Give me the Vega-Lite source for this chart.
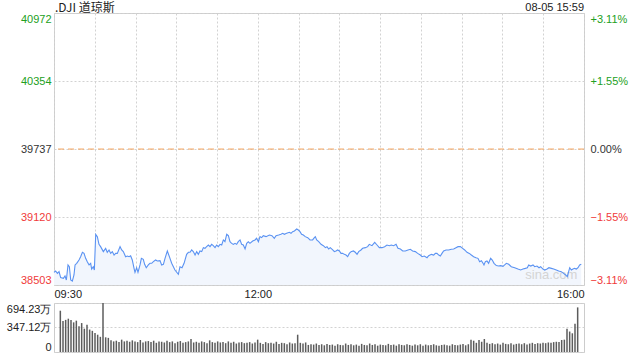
{
"$schema":"https://vega.github.io/schema/vega-lite/v6.json",
"padding":{"left":5,"top":1,"right":5,"bottom":4},
"spacing":2,
"config":{"view":{"stroke":"#cccccc"},"font":"Liberation Sans","axis":{"labelFont":"Liberation Sans","labelFontSize":11,"labelColor":"#333333","domain":false,"ticks":false,"gridColor":"#d2d2d2","gridDash":[2,2],"title":null}},
"datasets":{
"price":[{"t":0,"p":38618},{"t":1.2,"p":38630},{"t":2.5,"p":38609},{"t":3.7,"p":38624},{"t":4.9,"p":38570},{"t":6.9,"p":38563},{"t":8.1,"p":38585},{"t":9.1,"p":38548},{"t":10.3,"p":38685},{"t":11.3,"p":38669},{"t":12.3,"p":38548},{"t":13.5,"p":38539},{"t":14.7,"p":38594},{"t":15.5,"p":38685},{"t":16.7,"p":38700},{"t":18.4,"p":38730},{"t":19.6,"p":38760},{"t":20.9,"p":38800},{"t":22.1,"p":38790},{"t":23.3,"p":38745},{"t":24.5,"p":38715},{"t":25.8,"p":38685},{"t":27,"p":38700},{"t":27.7,"p":38648},{"t":28.9,"p":38669},{"t":29.7,"p":38639},{"t":30.7,"p":38963},{"t":31.9,"p":38942},{"t":33.1,"p":38872},{"t":34.3,"p":38851},{"t":36.3,"p":38806},{"t":38,"p":38836},{"t":39.2,"p":38800},{"t":40.5,"p":38821},{"t":41.7,"p":38790},{"t":42.9,"p":38806},{"t":44.2,"p":38775},{"t":45.4,"p":38790},{"t":46.6,"p":38790},{"t":48.6,"p":38851},{"t":49.8,"p":38821},{"t":51,"p":38806},{"t":52.7,"p":38760},{"t":54,"p":38766},{"t":55.2,"p":38760},{"t":56.4,"p":38769},{"t":57.6,"p":38730},{"t":58.9,"p":38654},{"t":59.6,"p":38618},{"t":60.8,"p":38660},{"t":61.8,"p":38618},{"t":63.3,"p":38685},{"t":64.3,"p":38745},{"t":65.7,"p":38736},{"t":66.7,"p":38691},{"t":67.9,"p":38660},{"t":69.4,"p":38685},{"t":70.6,"p":38700},{"t":71.9,"p":38700},{"t":73.1,"p":38715},{"t":74.8,"p":38730},{"t":76,"p":38721},{"t":78,"p":38724},
{"t":79.2,"p":38685},{"t":80.5,"p":38691},{"t":81.7,"p":38745},{"t":83.4,"p":38812},{"t":84.9,"p":38760},{"t":86.6,"p":38700},{"t":89,"p":38639},{"t":91.5,"p":38600},{"t":92.7,"p":38669},{"t":94.2,"p":38660},{"t":95.7,"p":38700},{"t":97.6,"p":38781},{"t":98.9,"p":38800},{"t":100.1,"p":38800},{"t":101.3,"p":38821},{"t":102.5,"p":38806},{"t":103.8,"p":38775},{"t":105,"p":38806},{"t":106.2,"p":38781},{"t":107.4,"p":38812},{"t":108.7,"p":38806},{"t":109.9,"p":38842},{"t":111.1,"p":38836},{"t":112.3,"p":38851},{"t":113.6,"p":38866},{"t":114.8,"p":38851},{"t":116,"p":38872},{"t":117.2,"p":38860},{"t":118.5,"p":38842},{"t":119.7,"p":38866},{"t":120.9,"p":38851},{"t":122.2,"p":38872},{"t":123.4,"p":38866},{"t":124.6,"p":38912},{"t":125.8,"p":38896},{"t":127.1,"p":38963},{"t":128.3,"p":38951},{"t":129.5,"p":38896},{"t":130.7,"p":38881},{"t":132,"p":38872},{"t":133.2,"p":38881},{"t":134.4,"p":38872},{"t":135.6,"p":38896},{"t":136.9,"p":38912},{"t":138.1,"p":38872},{"t":139.3,"p":38866},{"t":140.6,"p":38830},{"t":141.8,"p":38881},{"t":143,"p":38896},{"t":144.2,"p":38881},{"t":146.2,"p":38902},{"t":147.9,"p":38912},{"t":149.1,"p":38927},{"t":150.4,"p":38896},{"t":151.6,"p":38942},{"t":152.8,"p":38933},{"t":154,"p":38951},{"t":156,"p":38942},
{"t":158.5,"p":38957},{"t":160.4,"p":38951},{"t":162.1,"p":38927},{"t":163.4,"p":38951},{"t":165.3,"p":38957},{"t":167,"p":38963},{"t":168.3,"p":38972},{"t":169.5,"p":38963},{"t":171.2,"p":38972},{"t":173.2,"p":38981},{"t":174.4,"p":38972},{"t":175.6,"p":38987},{"t":176.9,"p":38993},{"t":178.6,"p":39011},{"t":179.8,"p":39002},{"t":181,"p":38987},{"t":182.2,"p":38963},{"t":183.5,"p":38957},{"t":184.9,"p":38942},{"t":186.7,"p":38933},{"t":188.4,"p":38912},{"t":190.3,"p":38912},{"t":191.6,"p":38933},{"t":192.3,"p":38942},{"t":193.3,"p":38912},{"t":194.8,"p":38896},{"t":196.5,"p":38872},{"t":198.2,"p":38860},{"t":199.7,"p":38842},{"t":200.9,"p":38851},{"t":202.1,"p":38830},{"t":203.3,"p":38842},{"t":205.1,"p":38821},{"t":206.3,"p":38806},{"t":207.5,"p":38812},{"t":208.7,"p":38821},{"t":210,"p":38812},{"t":211.2,"p":38790},{"t":212.4,"p":38790},{"t":213.6,"p":38781},{"t":214.9,"p":38775},{"t":216.1,"p":38760},{"t":217.3,"p":38790},{"t":218.6,"p":38806},{"t":220.3,"p":38812},{"t":221.7,"p":38800},{"t":223,"p":38781},{"t":224.2,"p":38806},{"t":225.9,"p":38821},{"t":227.1,"p":38836},{"t":229.1,"p":38842},{"t":230.8,"p":38851},{"t":232,"p":38872},{"t":234,"p":38860},
{"t":236,"p":38890},{"t":237.7,"p":38866},{"t":239.4,"p":38842},{"t":241.4,"p":38842},{"t":243.3,"p":38851},{"t":245,"p":38866},{"t":246.8,"p":38860},{"t":248.2,"p":38866},{"t":249.9,"p":38860},{"t":251.7,"p":38872},{"t":253.1,"p":38836},{"t":254.9,"p":38830},{"t":256.6,"p":38812},{"t":258.5,"p":38812},{"t":260.5,"p":38821},{"t":262.2,"p":38827},{"t":263.9,"p":38812},{"t":265.9,"p":38806},{"t":267.6,"p":38790},{"t":269.6,"p":38775},{"t":270.8,"p":38760},{"t":272.5,"p":38766},{"t":274.5,"p":38751},{"t":275.7,"p":38769},{"t":277.7,"p":38781},{"t":279.4,"p":38775},{"t":280.6,"p":38790},{"t":281.8,"p":38790},{"t":283.1,"p":38775},{"t":284.3,"p":38766},{"t":285.5,"p":38790},{"t":286.7,"p":38812},{"t":288.5,"p":38821},{"t":290.4,"p":38821},{"t":292.4,"p":38827},{"t":294.1,"p":38830},{"t":295.8,"p":38842},{"t":297.3,"p":38851},{"t":299,"p":38851},{"t":300.7,"p":38836},{"t":302.2,"p":38821},{"t":303.9,"p":38800},{"t":305.6,"p":38790},{"t":307.1,"p":38775},{"t":308.8,"p":38760},{"t":310.5,"p":38751},{"t":312,"p":38745},
{"t":313.2,"p":38715},{"t":314.5,"p":38724},{"t":315.7,"p":38700},{"t":316.4,"p":38685},{"t":317.4,"p":38715},{"t":318.6,"p":38721},{"t":319.8,"p":38700},{"t":321.3,"p":38745},{"t":322.5,"p":38730},{"t":323.8,"p":38700},{"t":325.5,"p":38679},{"t":327.2,"p":38675},{"t":328.7,"p":38679},{"t":330.4,"p":38672},{"t":331.6,"p":38685},{"t":332.9,"p":38700},{"t":334.6,"p":38691},{"t":336.5,"p":38669},{"t":339,"p":38660},{"t":341.4,"p":38648},{"t":343.4,"p":38639},{"t":345.1,"p":38648},{"t":346.8,"p":38654},{"t":348.3,"p":38660},{"t":349.3,"p":38685},{"t":350.8,"p":38675},{"t":352.5,"p":38685},{"t":353.7,"p":38669},{"t":355.4,"p":38675},{"t":356.9,"p":38660},{"t":358.1,"p":38669},{"t":359.8,"p":38648},{"t":361.1,"p":38639},{"t":362.8,"p":38648},{"t":364.2,"p":38660},{"t":366,"p":38654},{"t":367.7,"p":38648},{"t":369.6,"p":38639},{"t":371.4,"p":38630},{"t":373.3,"p":38624},{"t":375,"p":38609},{"t":376.5,"p":38594},{"t":377.7,"p":38579},{"t":378.7,"p":38624},{"t":379.5,"p":38660},{"t":380.7,"p":38639},{"t":381.9,"p":38648},{"t":383.1,"p":38654},{"t":384.4,"p":38648},{"t":385.6,"p":38660},{"t":386.8,"p":38685},{"t":388,"p":38691}],
"vol":[{"t":1,"v":585},{"t":3,"v":440},{"t":5,"v":455},{"t":7,"v":472},{"t":9,"v":455},{"t":11,"v":420},{"t":13,"v":444},{"t":15,"v":365},{"t":17,"v":410},{"t":19,"v":330},{"t":21,"v":385},{"t":23,"v":318},{"t":25,"v":300},{"t":27,"v":270},{"t":29,"v":245},{"t":31,"v":215},{"t":33,"v":694},{"t":35,"v":208},{"t":37,"v":200},{"t":39,"v":165},{"t":41,"v":150},{"t":43,"v":160},{"t":45,"v":140},{"t":47,"v":175},{"t":49,"v":150},{"t":51,"v":160},{"t":53,"v":145},{"t":55,"v":165},{"t":57,"v":150},{"t":59,"v":140},{"t":61,"v":170},{"t":63,"v":135},{"t":65,"v":150},{"t":67,"v":155},{"t":69,"v":140},{"t":71,"v":160},{"t":73,"v":130},{"t":75,"v":150},{"t":77,"v":145},{"t":79,"v":135},{"t":81,"v":160},{"t":83,"v":140},{"t":85,"v":150},{"t":87,"v":125},{"t":89,"v":145},{"t":91,"v":155},{"t":93,"v":130},{"t":95,"v":140},{"t":97,"v":150},{"t":99,"v":185},{"t":101,"v":135},{"t":103,"v":145},{"t":105,"v":130},{"t":107,"v":150},{"t":109,"v":140},{"t":111,"v":125},{"t":113,"v":165},{"t":115,"v":140},{"t":117,"v":130},{"t":119,"v":150},{"t":121,"v":135},{"t":123,"v":140},{"t":125,"v":125},{"t":127,"v":150},{"t":129,"v":130},{"t":131,"v":145},{"t":133,"v":120},{"t":135,"v":135},{"t":137,"v":140},{"t":139,"v":125},{"t":141,"v":130},{"t":143,"v":140},{"t":145,"v":120},{"t":147,"v":135},{"t":149,"v":175},{"t":151,"v":130},{"t":153,"v":115},{"t":155,"v":140},{"t":157,"v":125},{"t":159,"v":130},{"t":161,"v":120},{"t":163,"v":145},{"t":165,"v":115},{"t":167,"v":130},{"t":169,"v":125},{"t":171,"v":110},{"t":173,"v":135},{"t":175,"v":120},{"t":177,"v":125},{"t":179,"v":245},{"t":181,"v":130},{"t":183,"v":120},{"t":185,"v":135},{"t":187,"v":100},{"t":189,"v":110},{"t":191,"v":105},{"t":193,"v":120},{"t":195,"v":100},{"t":197,"v":110},{"t":199,"v":95},{"t":201,"v":115},{"t":203,"v":100},{"t":205,"v":105},{"t":207,"v":90},{"t":209,"v":110},{"t":211,"v":100},{"t":213,"v":95},{"t":215,"v":120},{"t":217,"v":100},{"t":219,"v":110},{"t":221,"v":95},{"t":223,"v":105},{"t":225,"v":90},{"t":227,"v":115},{"t":229,"v":100},{"t":231,"v":95},{"t":233,"v":120},{"t":235,"v":100},{"t":237,"v":110},{"t":239,"v":90},{"t":241,"v":105},{"t":243,"v":100},{"t":245,"v":95},{"t":247,"v":115},{"t":249,"v":100},{"t":251,"v":105},{"t":253,"v":90},{"t":255,"v":110},{"t":257,"v":100},{"t":259,"v":95},{"t":261,"v":110},{"t":263,"v":100},{"t":265,"v":90},{"t":267,"v":105},{"t":269,"v":95},{"t":271,"v":110},{"t":273,"v":90},{"t":275,"v":105},{"t":277,"v":95},{"t":279,"v":100},{"t":281,"v":110},{"t":283,"v":95},{"t":285,"v":90},{"t":287,"v":100},{"t":289,"v":105},{"t":291,"v":95},{"t":293,"v":90},{"t":295,"v":110},{"t":297,"v":100},{"t":299,"v":95},{"t":301,"v":105},{"t":303,"v":115},{"t":305,"v":95},{"t":307,"v":110},{"t":309,"v":175},{"t":311,"v":160},{"t":313,"v":130},{"t":315,"v":170},{"t":317,"v":145},{"t":319,"v":184},{"t":321,"v":130},{"t":323,"v":115},{"t":325,"v":125},{"t":327,"v":110},{"t":329,"v":120},{"t":331,"v":105},{"t":333,"v":130},{"t":335,"v":115},{"t":337,"v":110},{"t":339,"v":125},{"t":341,"v":105},{"t":343,"v":115},{"t":345,"v":120},{"t":347,"v":110},{"t":349,"v":125},{"t":351,"v":105},{"t":353,"v":120},{"t":355,"v":130},{"t":357,"v":115},{"t":359,"v":125},{"t":361,"v":120},{"t":363,"v":130},{"t":365,"v":125},{"t":367,"v":135},{"t":369,"v":130},{"t":371,"v":140},{"t":373,"v":145},{"t":375,"v":140},{"t":377,"v":170},{"t":379,"v":175},{"t":381,"v":330},{"t":383,"v":290},{"t":385,"v":265},{"t":387,"v":400},{"t":389,"v":632}]
},
"vconcat":[
{
"width":530,"height":272,
"resolve":{"scale":{"y":"independent"}},
"layer":[
{"layer":[
{"data":{"name":"price"},"mark":{"type":"area","color":"#f2f6fd"},
"encoding":{"x":{"field":"t","type":"quantitative","scale":{"domain":[0,390],"nice":false,"zero":false},"axis":{"values":[0,30,60,90,120,150,180,210,240,270,300,330,360,390],"labelExpr":"datum.value==0?'09:30':datum.value==150?'12:00':datum.value==390?'16:00':''","labelFlush":true,"labelPadding":3,"labelColor":"#222222","grid":true}},
"y":{"field":"p","type":"quantitative","scale":{"domain":[38503,40972],"nice":false,"zero":false},"axis":{"values":[38503,39120,39737,40354,40972],"labelFlush":true,"labelPadding":3,"format":"d","grid":true,"labelColor":{"condition":[{"test":"datum.value > 39737","value":"#22a022"},{"test":"datum.value < 39737","value":"#f03a3a"}],"value":"#333333"}}},
"y2":{"datum":38503}}},
{"data":{"values":[{"t":366,"p":38594,"s":"sina.com"}]},"mark":{"type":"text","fontSize":13,"color":"#d4d4d4","align":"center","baseline":"middle"},"encoding":{"x":{"field":"t","type":"quantitative"},"y":{"field":"p","type":"quantitative"},"text":{"field":"s"}}},
{"data":{"values":[{"p":39737}]},"mark":{"type":"rule","color":"#f4a35c","strokeDash":[6,4],"strokeWidth":1},"encoding":{"y":{"field":"p","type":"quantitative"}}},
{"data":{"name":"price"},"mark":{"type":"line","color":"#5a92f2","strokeWidth":1.1},"encoding":{"x":{"field":"t","type":"quantitative"},"y":{"field":"p","type":"quantitative"}}},
{"data":{"values":[{"t":390,"p":40972,"s":"08-05 15:59"}]},"mark":{"type":"text","fontSize":11,"color":"#222222","align":"right","baseline":"alphabetic","dy":-2},"encoding":{"x":{"field":"t","type":"quantitative"},"y":{"field":"p","type":"quantitative"},"text":{"field":"s"}}},
{"data":{"values":[{"t":0,"p":40972,"s":".DJI 道琼斯"}]},"mark":{"type":"text","fontSize":12,"font":"Noto Sans CJK SC","color":"#222222","align":"left","baseline":"alphabetic","dy":-1,"dx":1},"encoding":{"x":{"field":"t","type":"quantitative"},"y":{"field":"p","type":"quantitative"},"text":{"field":"s"}}}
]},
{"data":{"name":"price"},"mark":{"type":"line","opacity":0},
"encoding":{"x":{"field":"t","type":"quantitative"},"y":{"field":"p","type":"quantitative","scale":{"domain":[38503,40972],"nice":false,"zero":false},"axis":{"orient":"right","values":[38503,39120,39737,40354,40972],"labelFlush":true,"labelPadding":6,"grid":false,"labelExpr":"datum.value==39737?'0.00%':format((datum.value-39737)/39737*100,'+.2f')+'%'","labelColor":{"condition":[{"test":"datum.value > 39737","value":"#22a022"},{"test":"datum.value < 39737","value":"#f03a3a"}],"value":"#333333"}}}}}
]
},
{
"width":530,"height":49,
"data":{"name":"vol"},
"mark":{"type":"bar","color":"#5c5c5c","size":1.5},
"encoding":{"x":{"field":"t","type":"quantitative","scale":{"domain":[0,390],"nice":false,"zero":false},"axis":null},
"y":{"field":"v","type":"quantitative","scale":{"domain":[0,694.23],"nice":false},"axis":{"values":[0,347.12,694.23],"labelFlush":true,"labelPadding":3,"grid":true,"labelColor":"#222222","labelExpr":"datum.value==0?'0':format(datum.value,'.2f')+'万'"}}}
}
]
}
